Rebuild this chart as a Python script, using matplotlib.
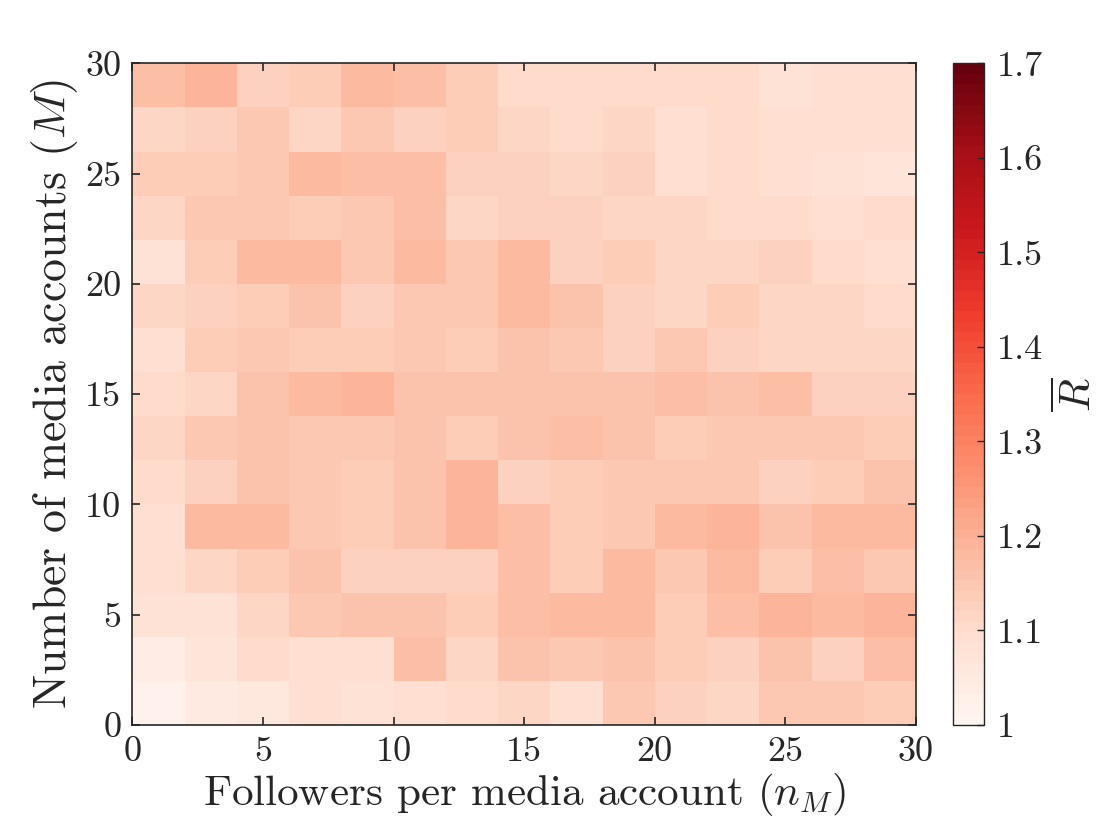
import numpy as np
import matplotlib as mpl
mpl.use("Agg")
import matplotlib.pyplot as plt

# grid edges (2-wide bins) for both axes
n_M_edges = np.arange(0, 32, 2)
M_edges = np.arange(0, 32, 2)

# mean R per cell, rows listed from top (M=28-30) to bottom (M=0-2)
R_rows = [
    [1.165, 1.19, 1.13, 1.14, 1.18, 1.165, 1.14, 1.10, 1.10, 1.10, 1.10, 1.10, 1.08, 1.09, 1.09],
    [1.12, 1.13, 1.15, 1.115, 1.15, 1.13, 1.14, 1.115, 1.10, 1.115, 1.095, 1.10, 1.09, 1.09, 1.09],
    [1.14, 1.14, 1.145, 1.175, 1.165, 1.165, 1.13, 1.13, 1.12, 1.125, 1.09, 1.10, 1.088, 1.08, 1.075],
    [1.115, 1.15, 1.15, 1.14, 1.15, 1.165, 1.115, 1.13, 1.13, 1.11, 1.11, 1.10, 1.10, 1.09, 1.10],
    [1.08, 1.14, 1.175, 1.185, 1.15, 1.175, 1.15, 1.175, 1.125, 1.14, 1.115, 1.115, 1.125, 1.10, 1.09],
    [1.115, 1.13, 1.14, 1.16, 1.13, 1.15, 1.15, 1.175, 1.155, 1.13, 1.115, 1.14, 1.115, 1.115, 1.10],
    [1.095, 1.14, 1.145, 1.14, 1.14, 1.15, 1.14, 1.16, 1.15, 1.125, 1.15, 1.13, 1.115, 1.115, 1.115],
    [1.10, 1.115, 1.16, 1.175, 1.19, 1.16, 1.16, 1.16, 1.155, 1.155, 1.165, 1.155, 1.17, 1.13, 1.13],
    [1.115, 1.145, 1.16, 1.145, 1.145, 1.155, 1.14, 1.16, 1.165, 1.155, 1.14, 1.15, 1.15, 1.15, 1.14],
    [1.10, 1.13, 1.16, 1.15, 1.14, 1.155, 1.19, 1.125, 1.14, 1.15, 1.15, 1.15, 1.13, 1.14, 1.155],
    [1.09, 1.175, 1.175, 1.15, 1.14, 1.155, 1.19, 1.165, 1.14, 1.15, 1.175, 1.19, 1.155, 1.175, 1.175],
    [1.09, 1.115, 1.14, 1.16, 1.13, 1.13, 1.13, 1.165, 1.135, 1.175, 1.15, 1.175, 1.14, 1.165, 1.15],
    [1.08, 1.08, 1.115, 1.145, 1.16, 1.16, 1.14, 1.165, 1.18, 1.18, 1.14, 1.165, 1.19, 1.18, 1.19],
    [1.04, 1.075, 1.10, 1.09, 1.09, 1.165, 1.115, 1.155, 1.15, 1.16, 1.14, 1.125, 1.155, 1.13, 1.165],
    [1.02, 1.045, 1.055, 1.09, 1.08, 1.088, 1.10, 1.112, 1.088, 1.145, 1.13, 1.115, 1.145, 1.145, 1.14],
]
R = np.array(R_rows)[::-1]  # bottom row first for pcolormesh

cbar_ticks = [1, 1.1, 1.2, 1.3, 1.4, 1.5, 1.6, 1.7]
cbar_labels = ["1", "1.1", "1.2", "1.3", "1.4", "1.5", "1.6", "1.7"]
axis_ticks = [0, 5, 10, 15, 20, 25, 30]

plt.rcParams["font.family"] = "serif"
plt.rcParams["font.serif"] = ["cmr10", "DejaVu Serif"]
plt.rcParams["mathtext.fontset"] = "cm"
plt.rcParams["axes.unicode_minus"] = False
plt.rcParams["axes.formatter.use_mathtext"] = True

dark = "#262626"
fig = plt.figure(figsize=(11.2, 8.4), dpi=100)
ax = fig.add_axes([0.1183, 0.1369, 0.6996, 0.7877])
cax = fig.add_axes([0.8506, 0.1369, 0.0282, 0.7877])

cmap = plt.get_cmap("Reds", 64)
mesh = ax.pcolormesh(n_M_edges, M_edges, R, cmap=cmap, vmin=1, vmax=1.7)

ax.set_xlim(0, 30)
ax.set_ylim(0, 30)
ax.set_xticks(axis_ticks)
ax.set_yticks(axis_ticks)
ax.set_xticklabels([str(t) for t in axis_ticks])
ax.set_yticklabels([str(t) for t in axis_ticks])
ax.tick_params(direction="in", top=True, right=True, length=6, width=1.2,
               labelsize=26, colors=dark, pad=8)
for s in ax.spines.values():
    s.set_color(dark)
    s.set_linewidth(1.2)
ax.set_xlabel("Followers per media account ($n_M$)", fontsize=31, color=dark, labelpad=2)
ax.set_ylabel("Number of media accounts ($M$)", fontsize=33, color=dark, labelpad=4)

cb = fig.colorbar(mesh, cax=cax)
cb.set_ticks(cbar_ticks)
cb.set_ticklabels(cbar_labels)
cb.ax.tick_params(direction="in", length=5, width=1.0, labelsize=26, colors=dark, pad=9)
cb.outline.set_edgecolor(dark)
cb.outline.set_linewidth(1.0)
cb.set_label(r"$\overline{R}$", fontsize=31, color=dark, labelpad=8)

fig.savefig("out.png", dpi=100)
